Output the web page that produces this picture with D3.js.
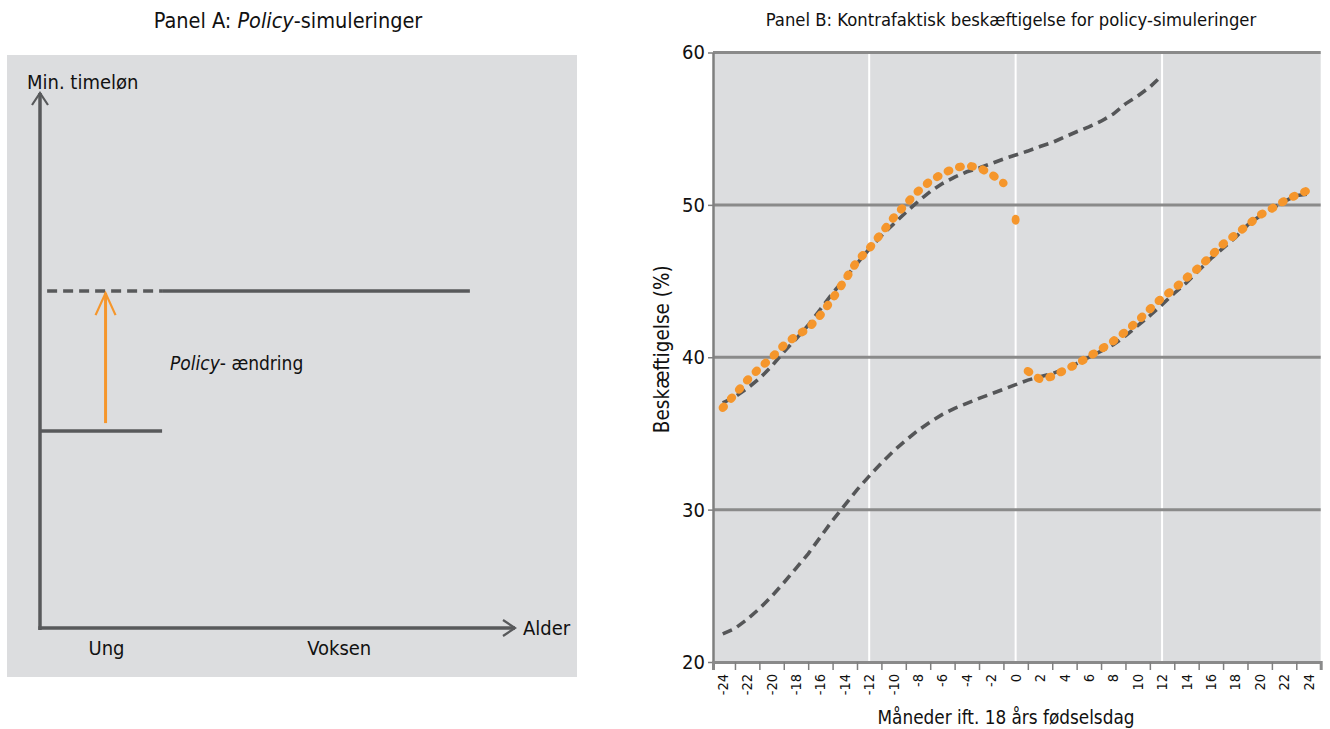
<!DOCTYPE html>
<html>
<head>
<meta charset="utf-8">
<script src="https://cdn.jsdelivr.net/npm/d3@7"></script>
<style>
  body { margin: 0; background: #fff; }
  text { font-family: "Liberation Sans Narrow", "DejaVu Sans Condensed", sans-serif; fill: #111; }
</style>
</head>
<body>
<script>
// ---- data: panel B (months relative to 18th birthday) ----
const months = [-24,-23,-22,-21,-20,-19,-18,-17,-16,-15,-14,-13,-12,-11,-10,-9,-8,-7,-6,-5,-4,-3,-2,-1,
                0,1,2,3,4,5,6,7,8,9,10,11,12,13,14,15,16,17,18,19,20,21,22,23,24];

// observed employment (orange dotted)
const observed = [36.68,37.57,38.49,39.28,39.97,40.79,41.40,41.89,42.76,43.84,45.06,46.30,47.14,48.14,49.16,50.05,50.89,51.57,52.04,52.42,52.58,52.45,52.02,51.43,
                  49.02,39.09,38.55,38.74,39.15,39.55,40.04,40.53,41.06,41.68,42.37,43.16,43.90,44.49,45.21,45.88,46.65,47.43,48.04,48.66,49.32,49.76,50.25,50.64,50.97];
// the observed line is broken around the birthday month
const observedBreaks = [0];

// counterfactual: youth wage continued (upper dashed, -24..12)
const cfUpperMonths = months.slice(0, 37);
const cfUpper = [37.0,37.4,37.95,38.6,39.4,40.35,41.2,42.1,43.15,44.2,45.15,46.15,47.1,47.97,48.75,49.5,50.22,50.87,51.4,51.82,52.17,52.42,52.71,53.01,
                 53.27,53.53,53.83,54.09,54.45,54.8,55.12,55.49,55.96,56.63,57.14,57.73,58.49];
// counterfactual: adult wage throughout (lower dashed, -24..24)
const cfLower = [21.85,22.2,22.8,23.5,24.3,25.2,26.15,27.1,28.2,29.3,30.3,31.3,32.2,33.05,33.85,34.55,35.2,35.75,36.25,36.65,36.97,37.3,37.6,37.9,
                 38.2,38.5,38.72,38.93,39.22,39.58,40.0,40.4,40.82,41.4,42.07,42.73,43.45,44.2,44.9,45.69,46.47,47.16,47.85,48.67,49.26,49.76,50.22,50.61,50.71];

const yTicksB = [20, 30, 40, 50, 60];
const yGridB = [30, 40, 50, 60];
const xGridB = [-12, 0, 12];
const xLabelsB = months.filter(m => m % 2 === 0);
const xTicksB = months.filter(m => m % 2 !== 0 && m > -24 && m < 24);

// ---- data: panel A (schematic, arbitrary units) ----
const youngWage = 36.8, adultWage = 63;
const youngEnd = 25.7, adultEnd = 90.5;
const arrowAt = 13.8, arrowFrom = 38.3, arrowTo = 62.6;
const ageGroups = [{ label: 'Ung', x: 14 }, { label: 'Voksen', x: 63 }];

const W = 1330, H = 729;
const orange = '#f5962c', dark = '#58595b', panelBg = '#dcdddf';

const svg = d3.select('body').append('svg').attr('width', W).attr('height', H);

// ================= Panel A =================
const gA = svg.append('g');
gA.append('rect').attr('x', 7).attr('y', 55).attr('width', 570).attr('height', 622).attr('fill', panelBg);

const xA = d3.scaleLinear().domain([0, 100]).range([40, 515]);
const yA = d3.scaleLinear().domain([0, 100]).range([628, 93]);

const titleA = gA.append('text').attr('x', 288).attr('y', 28).attr('text-anchor', 'middle').attr('font-size', 21.5);
titleA.append('tspan').text('Panel A: ');
titleA.append('tspan').attr('font-style', 'italic').text('Policy');
titleA.append('tspan').text('-simuleringer');

// axes with open arrowheads
gA.append('line').attr('x1', xA(0)).attr('x2', xA(0)).attr('y1', yA(0) + 2).attr('y2', yA(100))
  .attr('stroke', dark).attr('stroke-width', 3.5);
gA.append('line').attr('x1', xA(0) - 1.7).attr('x2', xA(100)).attr('y1', yA(0)).attr('y2', yA(0))
  .attr('stroke', dark).attr('stroke-width', 3.5);
gA.append('path').attr('d', `M${xA(0) - 8},${yA(100) + 12}L${xA(0)},${yA(100)}L${xA(0) + 8},${yA(100) + 12}`)
  .attr('fill', 'none').attr('stroke', dark).attr('stroke-width', 2.2);
gA.append('path').attr('d', `M${xA(100) - 12},${yA(0) - 8}L${xA(100)},${yA(0)}L${xA(100) - 12},${yA(0) + 8}`)
  .attr('fill', 'none').attr('stroke', dark).attr('stroke-width', 2.2);

gA.append('text').attr('x', 27).attr('y', 89).attr('font-size', 20).text('Min. timeløn');
gA.append('text').attr('x', 523).attr('y', yA(0) + 7).attr('font-size', 20).text('Alder');
gA.selectAll('.age').data(ageGroups).enter().append('text')
  .attr('x', d => xA(d.x)).attr('y', 655).attr('text-anchor', 'middle').attr('font-size', 20).text(d => d.label);

// wage levels
gA.append('line').attr('x1', xA(0)).attr('x2', xA(youngEnd)).attr('y1', yA(youngWage)).attr('y2', yA(youngWage))
  .attr('stroke', dark).attr('stroke-width', 3.5);
gA.append('line').attr('x1', xA(1.5)).attr('x2', xA(youngEnd)).attr('y1', yA(adultWage)).attr('y2', yA(adultWage))
  .attr('stroke', dark).attr('stroke-width', 3.5).attr('stroke-dasharray', '10,6');
gA.append('line').attr('x1', xA(youngEnd)).attr('x2', xA(adultEnd)).attr('y1', yA(adultWage)).attr('y2', yA(adultWage))
  .attr('stroke', dark).attr('stroke-width', 3.5);

// policy change arrow
gA.append('line').attr('x1', xA(arrowAt)).attr('x2', xA(arrowAt)).attr('y1', yA(arrowFrom)).attr('y2', yA(arrowTo))
  .attr('stroke', orange).attr('stroke-width', 3);
gA.append('path').attr('d', `M${xA(arrowAt) - 10},${yA(arrowTo) + 22}L${xA(arrowAt)},${yA(arrowTo)}L${xA(arrowAt) + 10},${yA(arrowTo) + 22}`)
  .attr('fill', 'none').attr('stroke', orange).attr('stroke-width', 2.2);
const pol = gA.append('text').attr('x', 170).attr('y', 370).attr('font-size', 19);
pol.append('tspan').attr('font-style', 'italic').text('Policy');
pol.append('tspan').text('- ændring');

// ================= Panel B =================
const gB = svg.append('g');
const xB = d3.scaleLinear().domain([-24.8, 25]).range([713, 1320.7]);
const yB = d3.scaleLinear().domain([20, 60]).range([662, 52.5]);

gB.append('rect').attr('x', xB.range()[0]).attr('y', yB(60)).attr('width', xB.range()[1] - xB.range()[0])
  .attr('height', yB(20) - yB(60)).attr('fill', panelBg);

gB.append('text').attr('x', 1011).attr('y', 26).attr('text-anchor', 'middle').attr('font-size', 18.3)
  .text('Panel B: Kontrafaktisk beskæftigelse for policy-simuleringer');

// grid
gB.selectAll('.vgrid').data(xGridB).enter().append('line')
  .attr('x1', d => xB(d)).attr('x2', d => xB(d)).attr('y1', yB(60)).attr('y2', yB(20))
  .attr('stroke', '#fff').attr('stroke-width', 2);
gB.selectAll('.hgrid').data(yGridB).enter().append('line')
  .attr('x1', xB.range()[0]).attr('x2', xB.range()[1]).attr('y1', d => yB(d)).attr('y2', d => yB(d))
  .attr('stroke', '#8a8a8a').attr('stroke-width', 3);

// y axis
const yAxis = gB.append('g').attr('transform', `translate(${xB.range()[0]},0)`)
  .call(d3.axisLeft(yB).tickValues(yTicksB).tickSize(5).tickSizeOuter(0));
yAxis.select('.domain').attr('stroke', '#7f7f7f').attr('stroke-width', 2.5);
yAxis.selectAll('.tick line').attr('stroke', '#7f7f7f').attr('stroke-width', 1.5);
yAxis.selectAll('.tick text').attr('font-size', 20).attr('x', -8)
  .style('font-family', '"Liberation Sans Narrow", "DejaVu Sans Condensed", sans-serif').attr('fill', '#111');

// x axis: ticks between the labels
const xAxis = gB.append('g').attr('transform', `translate(0,${yB(20)})`)
  .call(d3.axisBottom(xB).tickValues(xTicksB).tickSize(8).tickSizeOuter(8).tickFormat(''));
xAxis.select('.domain').attr('stroke', '#8a8a8a').attr('stroke-width', 3);
xAxis.selectAll('.tick line').attr('stroke', '#7f7f7f').attr('stroke-width', 1.5);

gB.selectAll('.xlab').data(xLabelsB).enter().append('text')
  .attr('transform', d => `translate(${xB(d)},674) rotate(-90)`)
  .attr('text-anchor', 'end').attr('dy', '0.35em').attr('font-size', 14.5).text(d => d);

gB.append('text').attr('x', 1006).attr('y', 724).attr('text-anchor', 'middle').attr('font-size', 18.8)
  .text('Måneder ift. 18 års fødselsdag');
gB.append('text').attr('transform', `translate(669,${yB(40) - 8}) rotate(-90)`).attr('text-anchor', 'middle')
  .attr('font-size', 20.5).text('Beskæftigelse (%)');

// counterfactual dashed lines
const line = d3.line().x(d => xB(d[0])).y(d => yB(d[1]));
[d3.zip(cfUpperMonths, cfUpper), d3.zip(months, cfLower)].forEach(pts => {
  gB.append('path').datum(pts).attr('d', line).attr('fill', 'none')
    .attr('stroke', '#555658').attr('stroke-width', 3.6).attr('stroke-dasharray', '10,6');
});

// observed dotted line, split at the breaks
const obs = d3.zip(months, observed);
const segments = [
  obs.filter(d => d[0] < observedBreaks[0]),
  obs.filter(d => d[0] === observedBreaks[0]),
  obs.filter(d => d[0] > observedBreaks[0])
];
segments.filter(s => s.length > 1).forEach(s => {
  gB.append('path').datum(s).attr('d', line).attr('fill', 'none')
    .attr('stroke', orange).attr('stroke-width', 8.3).attr('stroke-linecap', 'round')
    .attr('stroke-dasharray', '1.6,10.6');
});
gB.selectAll('.single').data(segments.filter(s => s.length === 1).map(s => s[0])).enter().append('ellipse')
  .attr('cx', d => xB(d[0])).attr('cy', d => yB(d[1])).attr('rx', 4).attr('ry', 5).attr('fill', orange);
</script>
</body>
</html>
